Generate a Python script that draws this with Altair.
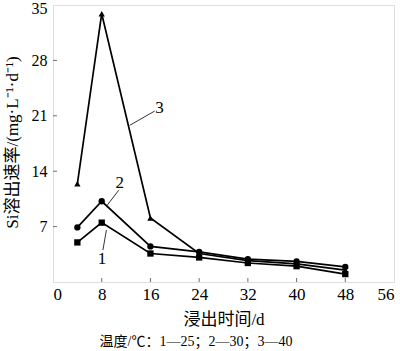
import altair as alt
import pandas as pd

days = [4, 8, 16, 24, 32, 40, 48]
s1 = [5.0, 7.5, 3.6, 3.1, 2.4, 2.0, 1.0]   # 25 ℃, squares
s2 = [6.9, 10.2, 4.5, 3.8, 2.9, 2.6, 1.9]  # 30 ℃, circles
s3 = [12.4, 33.9, 8.1, 3.6, 2.7, 2.3, 1.5]  # 40 ℃, triangles
series_names = ["1", "2", "3"]
x_ticks = [0, 8, 16, 24, 32, 40, 48, 56]
y_ticks = [0, 7, 14, 21, 28, 35]

# curve labels and leader lines
lab_text = ["1", "2", "3"]
lab_x = [8.05, 10.95, 17.5]
lab_y = [2.87, 12.55, 22.0]
lead_x = [8.2, 8.9, 12.6]
lead_x2 = [8.77, 10.8, 16.7]
lead_y = [4.04, 9.7, 19.8]
lead_y2 = [6.57, 11.6, 21.6]

caption = "温度/℃：1—25；2—30；3—40"
FONT = "Liberation Serif, Noto Sans CJK SC"

rows = []
for name, vals in zip(series_names, [s1, s2, s3]):
    for d, v in zip(days, vals):
        rows.append({"day": d, "rate": v, "s": name})
df = pd.DataFrame(rows)

labels = pd.DataFrame({"t": lab_text, "x": lab_x, "y": lab_y})
leaders = pd.DataFrame({"x": lead_x, "x2": lead_x2, "y": lead_y, "y2": lead_y2})
xt = pd.DataFrame({"v": x_ticks[1:-1]})
yt = pd.DataFrame({"v": y_ticks[1:-1]})

xs = alt.Scale(domain=[0, 56], nice=False)
ys = alt.Scale(domain=[0, 35], nice=False)

xax = alt.Axis(values=x_ticks, title="浸出时间/d", grid=False, ticks=False,
               labelFont=FONT, labelFontSize=17, labelColor="black", labelPadding=4,
               domain=False, titleFont=FONT, titleFontSize=17, titleFontWeight="normal",
               titleColor="black", titleY=37, titleBaseline="middle")
yax = alt.Axis(values=y_ticks[1:], title="Si溶出速率/(mg·L⁻¹·d⁻¹)", grid=False, ticks=False,
               labelFont=FONT, labelFontSize=16, labelColor="black", labelPadding=6,
               labelOffset=alt.expr("datum.value == 35 ? 3 : 0"),
               domain=False, titleFont=FONT, titleFontSize=17, titleFontWeight="normal",
               titleColor="black", titleX=-41, titleY=137, titleAngle=270,
               titleAlign="center", titleBaseline="middle")

base = alt.Chart(df)
lines = base.mark_line(color="black", strokeWidth=1.7).encode(
    x=alt.X("day:Q", scale=xs, axis=xax),
    y=alt.Y("rate:Q", scale=ys, axis=yax),
    detail="s:N",
)
points = base.mark_point(filled=True, color="black", opacity=1, size=40).encode(
    x=alt.X("day:Q", scale=xs),
    y=alt.Y("rate:Q", scale=ys),
    shape=alt.Shape("s:N", scale=alt.Scale(domain=series_names,
                                            range=["square", "circle", "triangle-up"]),
                    legend=None),
)
lab = alt.Chart(labels).mark_text(font=FONT, fontSize=17, color="black").encode(
    x=alt.X("x:Q", scale=xs), y=alt.Y("y:Q", scale=ys), text="t:N")
lead = alt.Chart(leaders).mark_rule(color="black", strokeWidth=0.8).encode(
    x=alt.X("x:Q", scale=xs), x2="x2:Q", y=alt.Y("y:Q", scale=ys), y2="y2:Q")
xtick = alt.Chart(xt).mark_tick(orient="vertical", size=4, thickness=1, color="#333").encode(
    x=alt.X("v:Q", scale=xs), y=alt.value(275))
ytick = alt.Chart(yt).mark_tick(orient="horizontal", size=4, thickness=1, color="#333").encode(
    y=alt.Y("v:Q", scale=ys), x=alt.value(2))
cap = alt.Chart(pd.DataFrame({"t": [caption]})).mark_text(
    font=FONT, fontSize=14, color="black").encode(
    text="t:N", x=alt.value(143), y=alt.value(337))

chart = alt.layer(lines, points, lead, lab, xtick, ytick, cap).properties(
    width=341, height=277,
    autosize=alt.AutoSizeParams(type="none"),
    padding={"left": 53, "top": 5, "right": 6, "bottom": 69},
).configure_view(stroke="#333", strokeWidth=1.2).configure(background="white")

chart.save("out.html", embed_options={"renderer": "svg", "actions": False})
